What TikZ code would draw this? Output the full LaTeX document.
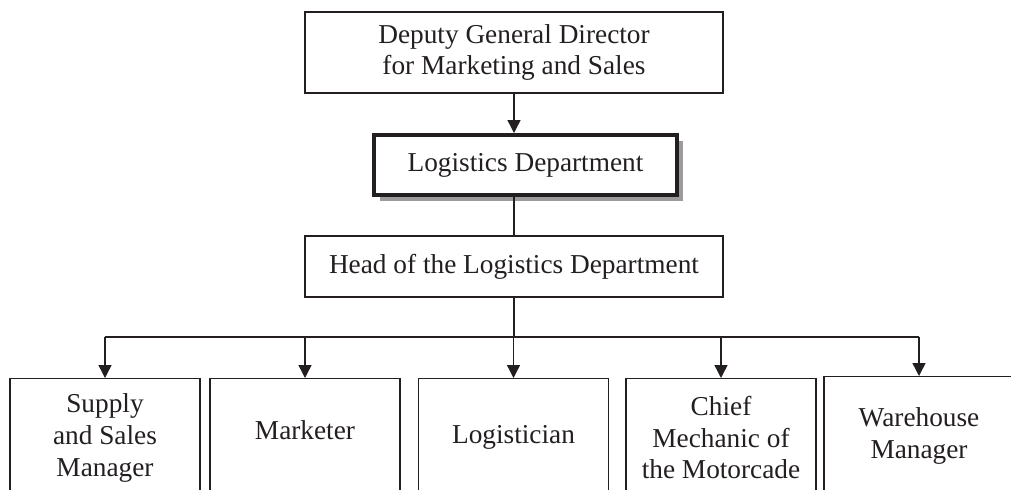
\documentclass[tikz,border=0pt]{standalone}
\usepackage{fontspec}
\setmainfont{Liberation Serif}
\usetikzlibrary{calc,arrows.meta,shadows}
\definecolor{orgInk}{HTML}{231F20}
\definecolor{orgShade}{HTML}{9B9B9B}
\tikzset{
  unit/.style  = {draw=orgInk, line width=0.7pt, fill=white, align=center,
                  inner sep=0pt, text=orgInk,
                  font=\fontsize{13.65}{15.9}\selectfont},
  % the department itself: heavy frame with a flat grey shadow
  hub/.style   = {unit, line width=2pt,
                  drop shadow={shadow xshift=3pt, shadow yshift=-3pt,
                               fill=orgShade, opacity=1}},
  post/.style  = {unit, anchor=north, minimum width=95pt, minimum height=59pt},
  link/.style  = {line width=0.7pt, color=orgInk},
  feed/.style  = {link, -{Triangle[length=6.5pt,width=6.5pt]}},
}

\begin{document}
\begin{tikzpicture}[x=0.5pt, y=-0.5pt]
\useasboundingbox (0,0) rectangle (1011,489);

% ===================== upper chain ==========================
\node[unit, minimum width=209pt, minimum height=40.5pt] (deputy) at (514,52.5)
  {Deputy General Director\\for Marketing and Sales};
\node[hub, minimum width=151.5pt, minimum height=30pt] (logdept) at (525.5,165)
  {Logistics Department};
\node[unit, minimum width=209pt, minimum height=30.5pt] (head) at (514,266.5)
  {Head of the Logistics Department};

\draw[feed] (deputy.south) -- (deputy.south |- logdept.north);
\draw[link] (logdept.south -| head.north) -- (head.north);

% ===================== staff row ============================
\node[post] (supply)      at (105,378)   {Supply\\and Sales\\Manager};
\node[post, text depth=8pt] (marketer) at (305,378) {Marketer};
\node[post] (logistician) at (513.5,378) {Logistician};
\node[post] (mechanic)    at (721,378)   {Chief\\Mechanic of\\the Motorcade};
\node[post] (warehouse)   at (919,376)   {Warehouse\\Manager};

\coordinate (bus) at (514,337);
\draw[link] (head.south) -- (head.south |- bus);
\draw[link] (supply.north |- bus) -- (warehouse.north |- bus);
\foreach \post in {supply,marketer,logistician,mechanic,warehouse}
  \draw[feed] (\post.north |- bus) -- (\post.north);

\end{tikzpicture}
\end{document}
